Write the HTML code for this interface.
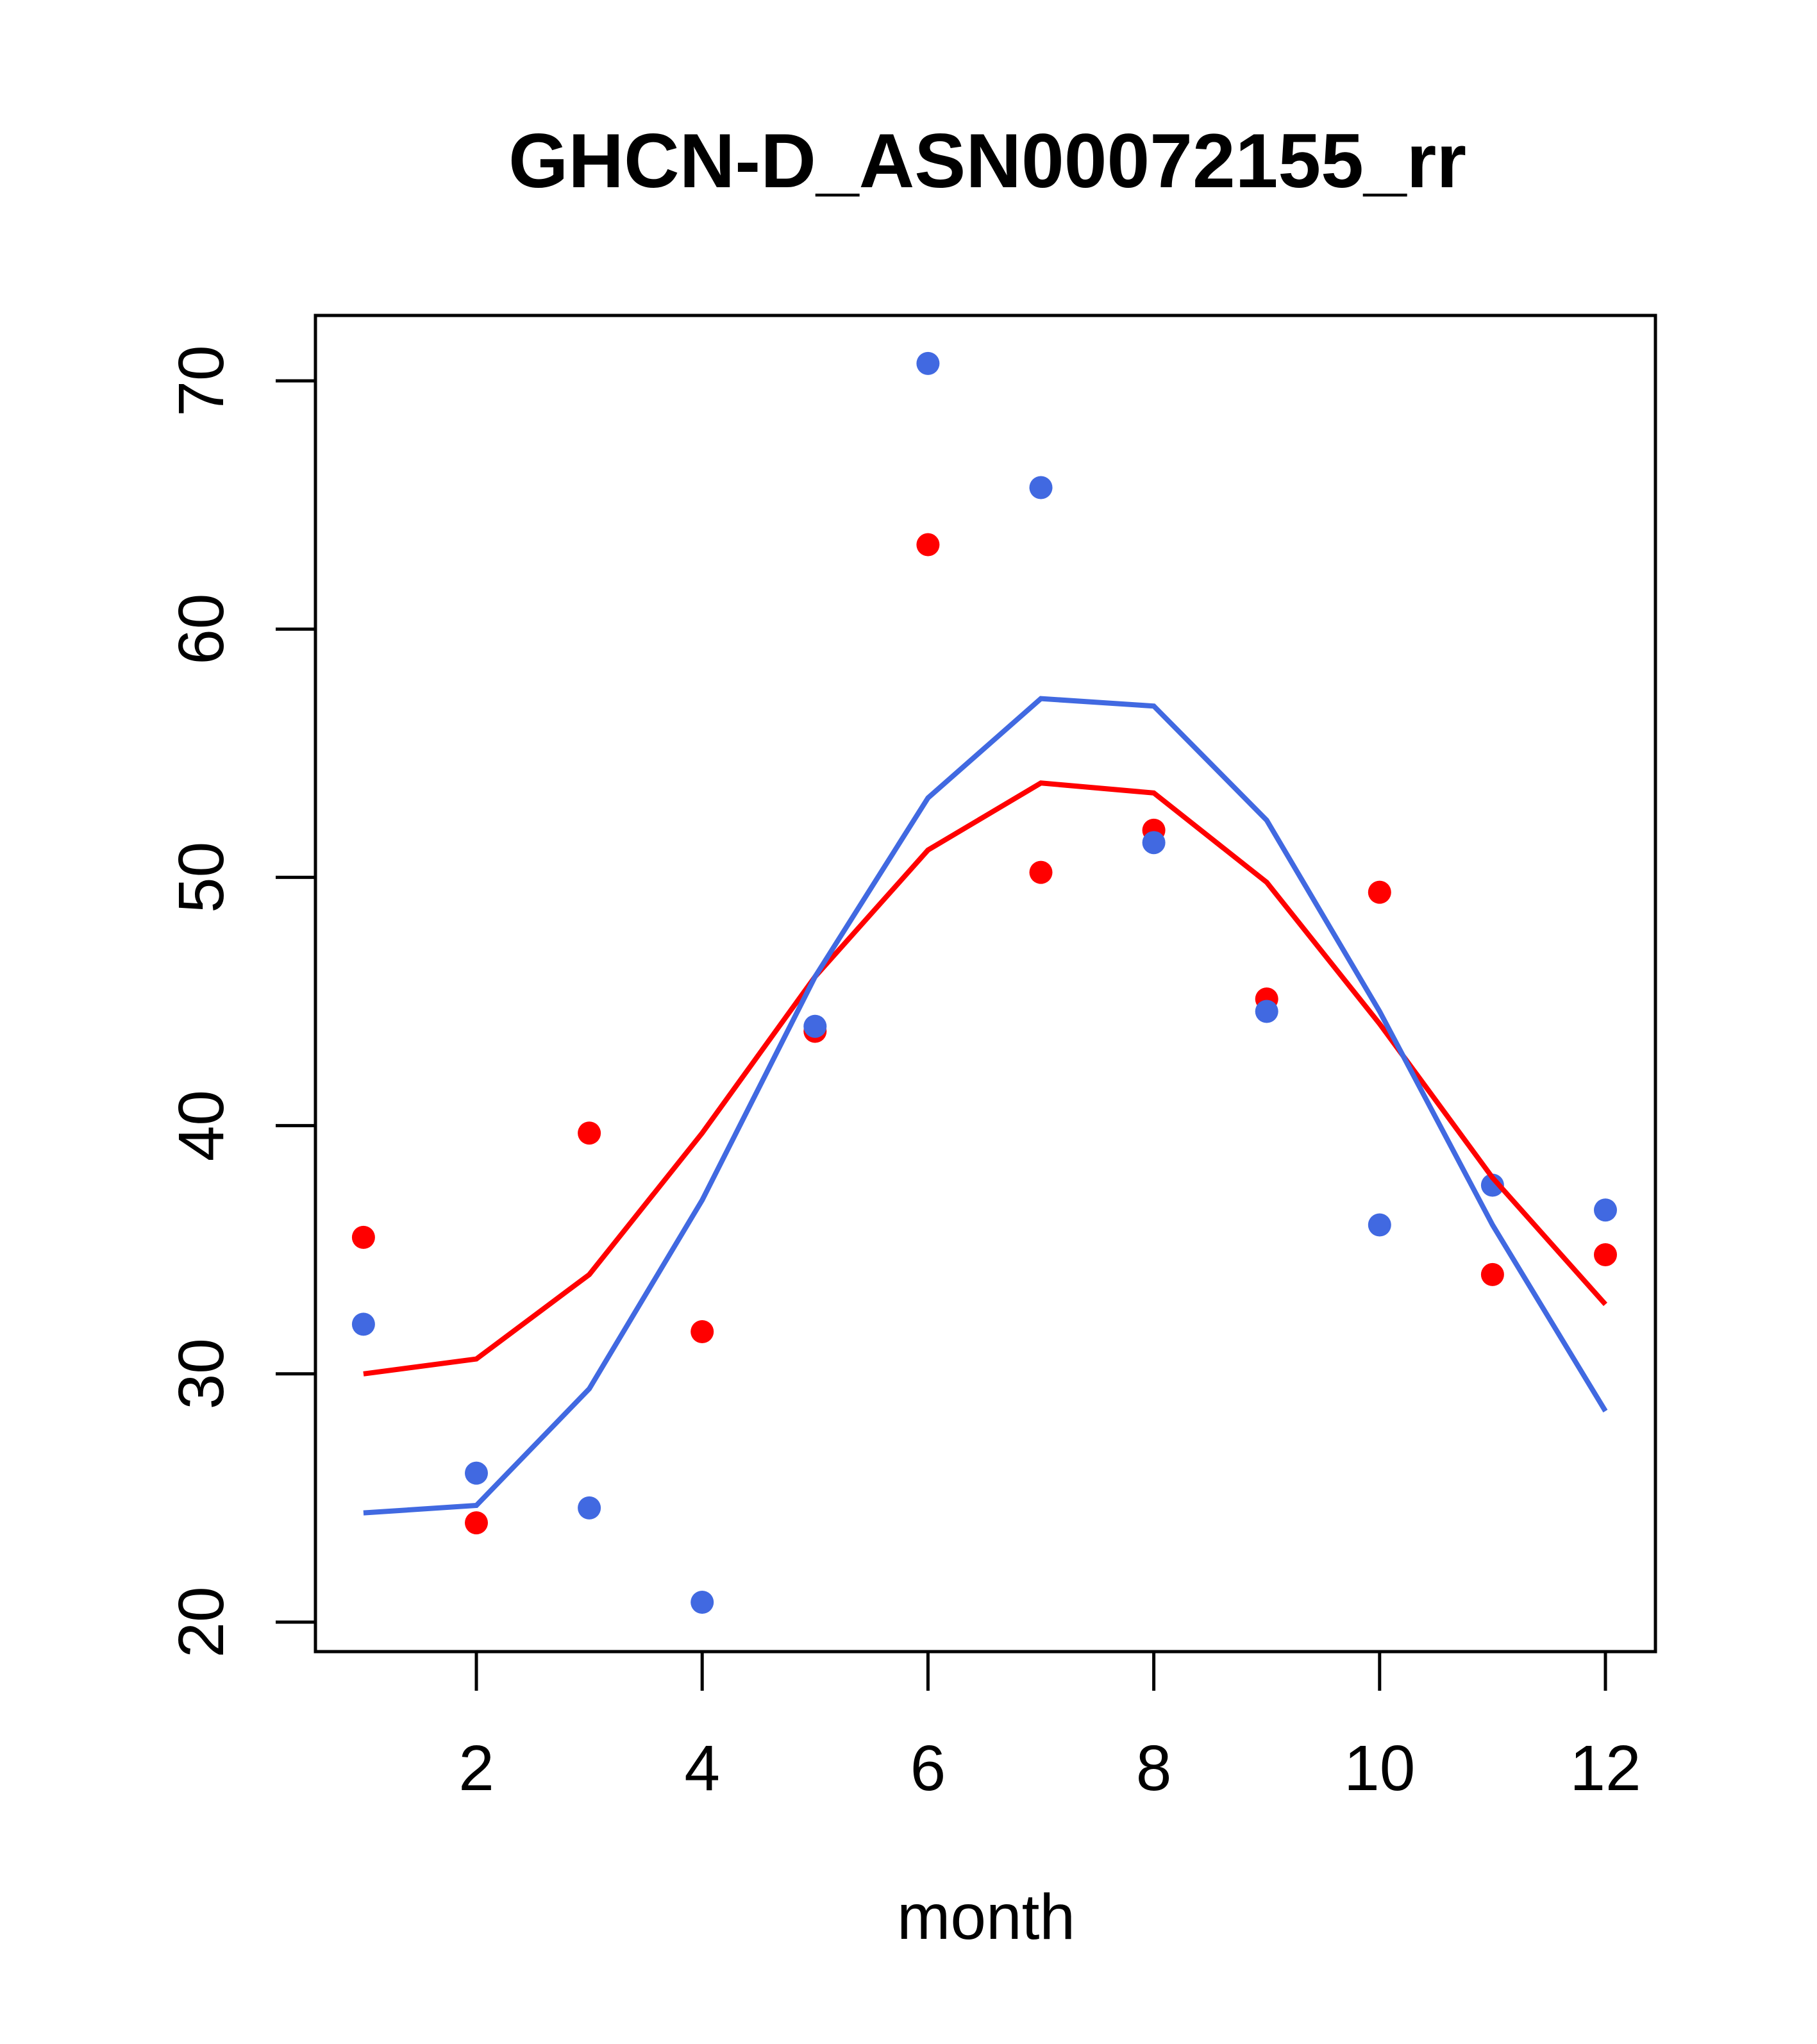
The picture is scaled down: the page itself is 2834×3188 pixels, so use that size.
<!DOCTYPE html>
<html><head><meta charset="utf-8"><style>body{margin:0;background:#fff}svg{display:block}</style></head>
<body>
<svg id="s" xmlns="http://www.w3.org/2000/svg" width="2834" height="3188" viewBox="0 0 2834 3188" font-family="Liberation Sans, sans-serif">
<rect width="2834" height="3188" fill="#fff"/>
<text x="1540" y="292" font-size="120" font-weight="bold" text-anchor="middle">GHCN-D_ASN00072155_rr</text>
<rect x="492" y="492" width="2090" height="2084" fill="none" stroke="#000" stroke-width="5"/>
<g id="g"></g>
<text x="1538" y="3024" font-size="100" text-anchor="middle">month</text>
</svg>
<script>
const X=m=>743+(m-2)*176.1, Y=v=>594+(70-v)*38.72;
let h='';
for(let m=2;m<=12;m+=2){h+=`<line x1="${X(m)}" y1="2576" x2="${X(m)}" y2="2637" stroke="#000" stroke-width="5"/><text x="${X(m)}" y="2792" font-size="100" text-anchor="middle">${m}</text>`;}
for(let v=20;v<=70;v+=10){h+=`<line x1="430" y1="${Y(v)}" x2="492" y2="${Y(v)}" stroke="#000" stroke-width="5"/><text transform="translate(348,${Y(v)}) rotate(-90)" font-size="100" text-anchor="middle">${v}</text>`;}
const rl=[30.0,30.6,34.0,39.7,46.0,51.1,53.8,53.4,49.8,44.1,37.9,32.8];
const bl=[24.4,24.7,29.4,37.0,46.0,53.2,57.2,56.9,52.3,44.6,36.0,28.5];
const rp=[35.5,24.0,39.7,31.7,43.8,63.4,50.2,51.9,45.1,49.4,34.0,34.8];
const bp=[32.0,26.0,24.6,20.8,44.0,70.7,65.7,51.4,44.6,36.0,37.6,36.6];
const pl=(a,c)=>`<polyline fill="none" stroke="${c}" stroke-width="8" points="${a.map((v,i)=>X(i+1)+','+Y(v)).join(' ')}"/>`;
const pt=(a,c)=>a.map((v,i)=>`<circle cx="${X(i+1)}" cy="${Y(v)}" r="18" fill="${c}"/>`).join('');
h+=pt(rp,'#ff0000')+pt(bp,'#4169e1')+pl(rl,'#ff0000')+pl(bl,'#4169e1');
document.getElementById('g').innerHTML=h;
</script>
</body></html>
